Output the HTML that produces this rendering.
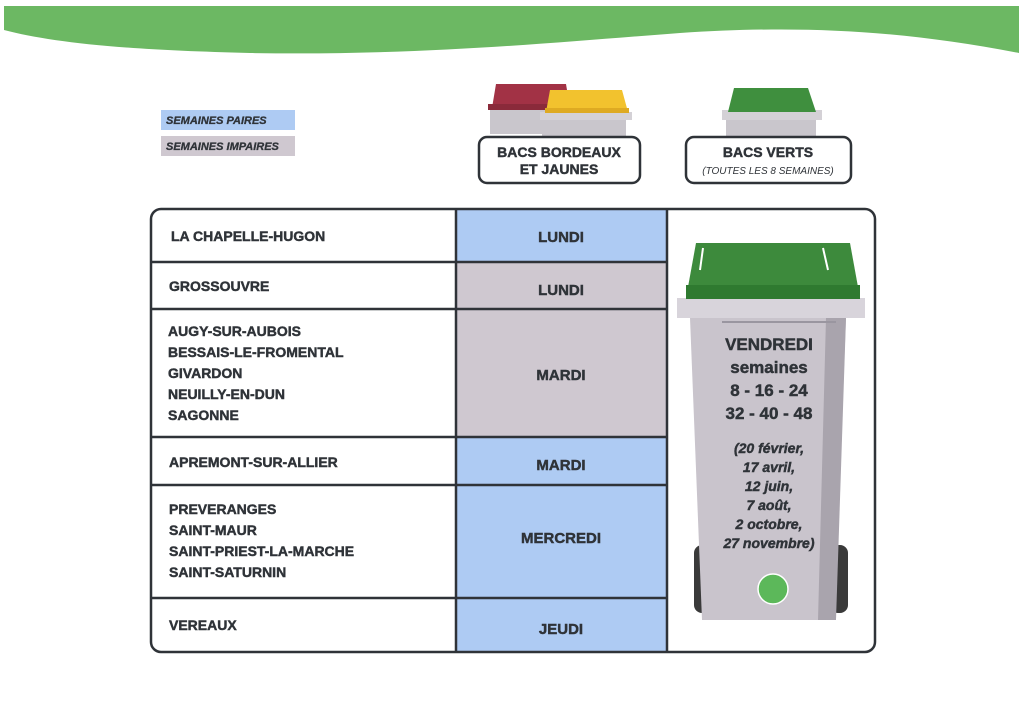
<!DOCTYPE html>
<html><head><meta charset="utf-8">
<style>
html,body{margin:0;padding:0;background:#fff;}
body{width:1024px;height:724px;overflow:hidden;position:relative;font-family:"Liberation Sans",sans-serif;}
svg{position:absolute;left:0;top:0;}
text{font-family:"Liberation Sans",sans-serif;font-weight:bold;fill:#2f3338;stroke:#2f3338;stroke-width:0.45;}
</style></head><body>
<svg width="1024" height="724" viewBox="0 0 1024 724">
<path d="M4,6 L1019,6 L1019,53 C900,30 800,25 680,33 C560,42 420,56 250,53 C120,50 50,42 4,30 Z" fill="#6cb863"/>
<rect x="161" y="110" width="134" height="20" fill="#aecbf3"/>
<text x="166" y="124" font-size="11" font-style="italic" style="stroke-width:0.3">SEMAINES PAIRES</text>
<rect x="161" y="136" width="134" height="20" fill="#cfc8d0"/>
<text x="166" y="150" font-size="11" font-style="italic" style="stroke-width:0.3">SEMAINES IMPAIRES</text>

<rect x="490" y="106" width="80" height="28" fill="#c9c6cc"/>
<path d="M496,84 L566,84 L570,108 L492,108 Z" fill="#a23245"/>
<rect x="488" y="104" width="86" height="6" fill="#8a2a3a"/>
<rect x="542" y="116" width="84" height="22" fill="#c9c6cc"/>
<rect x="540" y="112" width="92" height="8" fill="#d4d1d6"/>
<path d="M550,90 L622,90 L628,112 L546,112 Z" fill="#f2c22e"/>
<rect x="545" y="108" width="84" height="5" fill="#deaa22"/>
<rect x="726" y="112" width="90" height="26" fill="#c9c6cc"/>
<rect x="722" y="110" width="100" height="10" fill="#d4d1d6"/>
<path d="M734,88 L808,88 L816,112 L728,112 Z" fill="#3f8f3e"/>

<rect x="479" y="137" width="161" height="46" rx="8" fill="#fff" stroke="#2f3338" stroke-width="2.5"/>
<text x="559" y="157" font-size="14" text-anchor="middle">BACS BORDEAUX</text>
<text x="559" y="174" font-size="14" text-anchor="middle">ET JAUNES</text>
<rect x="686" y="137" width="165" height="46" rx="8" fill="#fff" stroke="#2f3338" stroke-width="2.5"/>
<text x="768" y="157" font-size="14" text-anchor="middle">BACS VERTS</text>
<text x="768" y="174" font-size="10" text-anchor="middle" style="font-weight:normal;font-style:italic;stroke-width:0">(TOUTES LES 8 SEMAINES)</text>

<rect x="456" y="209" width="211" height="53" fill="#aecbf3"/>
<rect x="456" y="262" width="211" height="175" fill="#cfc8d0"/>
<rect x="456" y="437" width="211" height="214" fill="#aecbf3"/>
<g stroke="#2f3338" stroke-width="2.5" fill="none">
<rect x="151" y="209" width="724" height="443" rx="10"/>
<line x1="456" y1="209" x2="456" y2="652"/>
<line x1="667" y1="209" x2="667" y2="652"/>
<line x1="151" y1="262" x2="667" y2="262"/>
<line x1="151" y1="309" x2="667" y2="309"/>
<line x1="151" y1="437" x2="667" y2="437"/>
<line x1="151" y1="485" x2="667" y2="485"/>
<line x1="151" y1="598" x2="667" y2="598"/>
</g>
<g font-size="14">
<text x="171" y="241">LA CHAPELLE-HUGON</text>
<text x="169" y="291">GROSSOUVRE</text>
<text x="168" y="336">AUGY-SUR-AUBOIS</text>
<text x="168" y="357">BESSAIS-LE-FROMENTAL</text>
<text x="168" y="378">GIVARDON</text>
<text x="168" y="399">NEUILLY-EN-DUN</text>
<text x="168" y="420">SAGONNE</text>
<text x="169" y="467">APREMONT-SUR-ALLIER</text>
<text x="169" y="514">PREVERANGES</text>
<text x="169" y="535">SAINT-MAUR</text>
<text x="169" y="556">SAINT-PRIEST-LA-MARCHE</text>
<text x="169" y="577">SAINT-SATURNIN</text>
<text x="169" y="630">VEREAUX</text>
</g>
<g font-size="15" text-anchor="middle">
<text x="561" y="242">LUNDI</text>
<text x="561" y="295">LUNDI</text>
<text x="561" y="380">MARDI</text>
<text x="561" y="470">MARDI</text>
<text x="561" y="543">MERCREDI</text>
<text x="561" y="634">JEUDI</text>
</g>

<rect x="694" y="545" width="18" height="68" rx="8" fill="#3a3a3a"/>
<rect x="830" y="545" width="18" height="68" rx="8" fill="#3a3a3a"/>
<path d="M690,318 L846,318 L834,620 L702,620 Z" fill="#c9c4cc"/>
<path d="M826,318 L846,318 L836,620 L818,620 Z" fill="#a9a4ad"/>
<rect x="677" y="298" width="188" height="20" fill="#d8d4db"/>
<line x1="722" y1="322" x2="836" y2="322" stroke="#9a96a0" stroke-width="2"/>
<path d="M696,243 L850,243 L860,298 L686,298 Z" fill="#3d8a3c"/>
<rect x="686" y="285" width="174" height="14" fill="#2f7a30"/>
<line x1="700" y1="270" x2="703" y2="248" stroke="#fff" stroke-width="2"/>
<line x1="823" y1="248" x2="828" y2="270" stroke="#fff" stroke-width="2"/>
<circle cx="773" cy="589" r="15" fill="#5cb85a" stroke="#fff" stroke-width="1.5"/>
<g text-anchor="middle">
<text x="769" y="350" font-size="17">VENDREDI</text>
<text x="769" y="373" font-size="17">semaines</text>
<text x="769" y="396" font-size="17">8 - 16 - 24</text>
<text x="769" y="419" font-size="17">32 - 40 - 48</text>
<g font-size="14" font-style="italic">
<text x="769" y="453">(20 février,</text>
<text x="769" y="472">17 avril,</text>
<text x="769" y="491">12 juin,</text>
<text x="769" y="510">7 août,</text>
<text x="769" y="529">2 octobre,</text>
<text x="769" y="548">27 novembre)</text>
</g>
</g>
</svg>
</body></html>
